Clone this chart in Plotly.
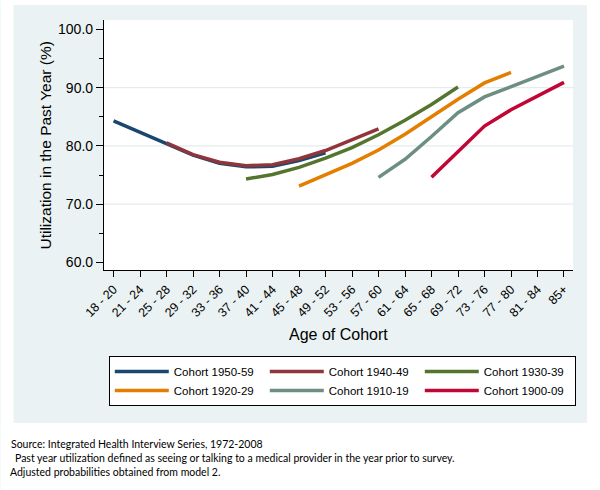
import plotly.graph_objects as go

# ---- data ----
age_groups = ["18 - 20", "21 - 24", "25 - 28", "29 - 32", "33 - 36", "37 - 40",
              "41 - 44", "45 - 48", "49 - 52", "53 - 56", "57 - 60", "61 - 64",
              "65 - 68", "69 - 72", "73 - 76", "77 - 80", "81 - 84", "85+"]

cohort_names = ["Cohort 1950-59", "Cohort 1940-49", "Cohort 1930-39",
                "Cohort 1920-29", "Cohort 1910-19", "Cohort 1900-09"]

N = None
cohort_1950_59 = [84.3, 82.3, 80.3, 78.4, 77.0, 76.4, 76.5, 77.5, 78.8, N, N, N, N, N, N, N, N, N]
cohort_1940_49 = [N, N, 80.5, 78.5, 77.2, 76.6, 76.75, 77.8, 79.2, 81.0, 82.9, N, N, N, N, N, N, N]
cohort_1930_39 = [N, N, N, N, N, 74.3, 75.1, 76.3, 77.9, 79.7, 81.9, 84.4, 87.1, 90.1, N, N, N, N]
cohort_1920_29 = [N, N, N, N, N, N, N, 73.1, 75.0, 77.0, 79.3, 82.0, 85.0, 88.0, 90.8, 92.6, N, N]
cohort_1910_19 = [N, N, N, N, N, N, N, N, N, N, 74.6, 77.7, 81.6, 85.7, 88.4, 90.2, 91.9, 93.7]
cohort_1900_09 = [N, N, N, N, N, N, N, N, N, N, N, N, 74.6, 79.1, 83.4, 86.2, 88.6, 90.9]

series = [cohort_1950_59, cohort_1940_49, cohort_1930_39,
          cohort_1920_29, cohort_1910_19, cohort_1900_09]
colors = ["#1A476F", "#90353B", "#55752F", "#E37E00", "#6E8E84", "#C10534"]

y_ticks = [60, 70, 80, 90, 100]
grid_vals = [70, 80, 90]

footnotes = ["Source: Integrated Health Interview Series, 1972-2008",
             "Past year utilization defined as seeing or talking to a medical provider in the year prior to survey.",
             "Adjusted probabilities obtained from model 2."]

# ---- layout geometry (pixels) ----
W, H = 600, 490
PL, PR, PT, PB = 103.5, 573, 20, 270
REGION = "#EAF2F3"
GRID = "#E3ECEE"
X_RANGE = [-0.36, len(age_groups) - 1 + 0.34]
Y_RANGE = [58.7, 101.6]


def px_x(p):
    return (p - PL) / (PR - PL)


def px_y(p):
    return (PB - p) / (PB - PT)


FONT = "Liberation Sans, Arial, sans-serif"

fig = go.Figure()
for name, vals, col in zip(cohort_names, series, colors):
    fig.add_trace(go.Scatter(x=age_groups, y=vals, name=name, mode="lines",
                             line=dict(color=col, width=3.5),
                             connectgaps=False))

white_edges = [
    (0, 13, 0, H),        # left strip
    (587, W, 0, H),       # right strip
    (0, W, 0, 5),         # top strip
    (0, W, 423, H),       # bottom (footnote) area
]
shapes = []
for x0, x1, y0, y1 in white_edges:
    shapes.append(dict(type="rect", xref="paper", yref="paper", layer="below",
                       x0=px_x(x0), x1=px_x(x1), y0=px_y(y1), y1=px_y(y0),
                       fillcolor="white", line=dict(width=0)))
for g in grid_vals:
    shapes.append(dict(type="line", xref="x", yref="y", layer="below",
                       x0=X_RANGE[0], x1=X_RANGE[1], y0=g, y1=g,
                       line=dict(color=GRID, width=1.3)))

annotations = [
    dict(text="Age of Cohort", xref="paper", yref="paper",
         x=px_x(338), y=px_y(334), xanchor="center", yanchor="middle",
         showarrow=False, font=dict(family=FONT, size=16, color="black")),
    dict(text="Utilization in the Past Year (%)", xref="paper", yref="paper",
         x=px_x(44), y=px_y(145), xanchor="center", yanchor="middle",
         textangle=-90, showarrow=False,
         font=dict(family=FONT, size=15.5, color="black")),
]
foot_x = [8.3, 12.3, 7.7]
foot_y = [444, 458, 472]
for t, fx, fy in zip(footnotes, foot_x, foot_y):
    annotations.append(dict(text=t, xref="paper", yref="paper",
                            x=px_x(fx), y=px_y(fy), xanchor="left", yanchor="middle",
                            showarrow=False,
                            font=dict(family="Lato, sans-serif", size=10.5, color="black")))

fig.update_layout(
    width=W, height=H,
    margin=dict(l=PL, r=W - PR, t=PT, b=H - PB, autoexpand=False),
    paper_bgcolor=REGION,
    plot_bgcolor="white",
    font=dict(family=FONT, color="black"),
    shapes=shapes,
    annotations=annotations,
    showlegend=True,
    legend=dict(orientation="h", x=px_x(108.3), y=px_y(356),
                xanchor="left", yanchor="top",
                bgcolor="white", bordercolor="black", borderwidth=1,
                entrywidth=86, entrywidthmode="pixels", itemwidth=54,
                font=dict(family=FONT, size=11.5, color="black"),
                tracegroupgap=0),
    xaxis=dict(type="category", categoryorder="array", categoryarray=age_groups,
               range=X_RANGE, showgrid=False, zeroline=False,
               showline=True, linecolor="black", linewidth=1.2,
               ticks="outside", ticklen=6, tickwidth=1, tickcolor="black",
               tickangle=-45, tickfont=dict(family=FONT, size=12.5, color="black")),
    yaxis=dict(range=Y_RANGE, tickvals=y_ticks, tickformat=".1f",
               showgrid=False, zeroline=False,
               showline=True, linecolor="black", linewidth=1.2,
               ticks="outside", ticklen=7, tickwidth=1, tickcolor="black",
               tickfont=dict(family=FONT, size=14, color="black"),
               minor=dict(tick0=60, dtick=5, ticks="outside", ticklen=4,
                          tickcolor="black", showgrid=False)),
)

fig.write_html("out.html", config={"displayModeBar": False},
               post_script="document.body.style.margin='0';document.body.style.padding='0';")
